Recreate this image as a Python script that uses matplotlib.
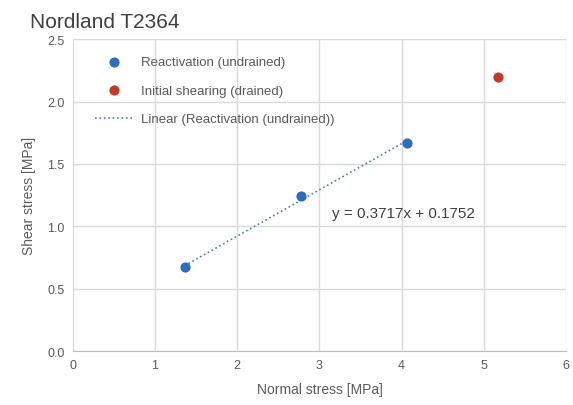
import matplotlib
matplotlib.use("Agg")
import matplotlib.pyplot as plt
import numpy as np

reac_x = [1.36, 2.78, 4.06]
reac_y = [0.67, 1.24, 1.67]
init_x = [5.17]
init_y = [2.20]
eq_text = "y = 0.3717x + 0.1752"
xticks = [0, 1, 2, 3, 4, 5, 6]
yticks = [0.0, 0.5, 1.0, 1.5, 2.0, 2.5]

plt.rcParams['font.family'] = ['Liberation Sans', 'DejaVu Sans']
fig = plt.figure(figsize=(5.73, 4.06), dpi=100)
ax = fig.add_axes([0.127, 0.133, 0.861, 0.768])

slope, intercept = np.polyfit(reac_x, reac_y, 1)
lx = np.array([min(reac_x), max(reac_x)])
ax.plot(lx, slope * lx + intercept, linestyle=':', color='#4a7cc9', lw=1.2,
        label='Linear (Reactivation (undrained))', zorder=2)
ax.scatter(reac_x, reac_y, s=40, color='#2f6db8', label='Reactivation (undrained)', zorder=3)
ax.scatter(init_x, init_y, s=40, color='#c0392b', label='Initial shearing (drained)', zorder=3)

ax.text(3.15, 1.11, eq_text, fontsize=11, color='#404040', va='center')

ax.set_xlim(0, 6)
ax.set_ylim(0, 2.5)
ax.set_xticks(xticks)
ax.set_yticks(yticks)
ax.set_yticklabels([f"{v:.1f}" for v in yticks])
ax.grid(True, color='#d9d9d9', lw=1)
ax.set_axisbelow(True)
for s in ['top', 'right', 'left']:
    ax.spines[s].set_visible(False)
ax.spines['bottom'].set_color('#bfbfbf')
ax.tick_params(length=0, colors='#595959', labelsize=9, pad=6)
ax.set_xlabel('Normal stress [MPa]', fontsize=10, color='#595959', labelpad=8)
ax.set_ylabel('Shear stress [MPa]', fontsize=10, color='#595959', labelpad=8)

h, l = ax.get_legend_handles_labels()
order = [1, 2, 0]
leg = ax.legend([h[i] for i in order], [l[i] for i in order], loc='upper left',
                frameon=False, fontsize=9.5, labelcolor='#595959', handlelength=3.0,
                handletextpad=0.5, labelspacing=1.25, bbox_to_anchor=(0.02, 0.985))

fig.text(0.052, 0.93, 'Nordland T2364', fontsize=15, color='#404040')
fig.savefig('out.png', dpi=100)
